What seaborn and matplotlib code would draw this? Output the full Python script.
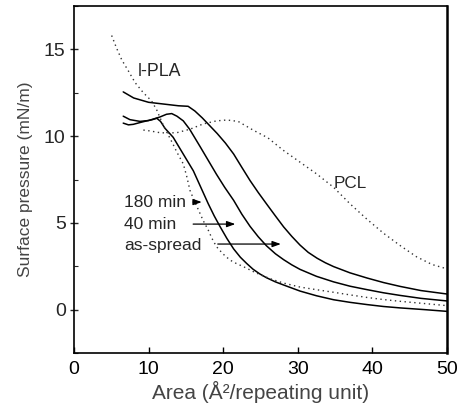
import numpy as np
import pandas as pd
import matplotlib
matplotlib.use("Agg")
import matplotlib.pyplot as plt
import seaborn as sns
from matplotlib.ticker import MultipleLocator

sns.set_style("ticks")
plt.rcParams["font.family"] = ["Liberation Sans", "DejaVu Sans"]

# ------------------------------------------------
# DATA
# ------------------------------------------------
as_spread_x = [6.6, 8, 10, 12, 14, 15.3, 16.2, 17.2, 18.2, 19.2, 20.3, 21.4, 22.5, 23.6,
               24.7, 25.8, 27, 28.1, 29.2, 30.3, 31.4, 32.6, 33.7, 34.8, 37, 39.3, 41.5,
               43.7, 46.5, 50]
as_spread_y = [12.55, 12.2, 11.95, 11.85, 11.75, 11.72, 11.45, 11.05, 10.6, 10.15, 9.6,
               8.97, 8.2, 7.44, 6.75, 6.1, 5.4, 4.77, 4.22, 3.72, 3.3, 2.96, 2.7, 2.48,
               2.12, 1.82, 1.56, 1.34, 1.1, 0.9]

min40_x = [6.6, 7.5, 8.85, 10, 10.6, 11.5, 12.4, 13.1, 13.8, 14.65, 15.5, 16.2, 16.9, 18,
           19.1, 20.2, 21.4, 22.5, 23.6, 24.7, 25.8, 27, 28.1, 29.2, 30.3, 32.5, 34.8, 37,
           39.3, 41.5, 43.7, 46.5, 50]
min40_y = [11.15, 10.95, 10.85, 10.9, 10.98, 11.1, 11.26, 11.3, 11.15, 10.88, 10.4, 9.9,
           9.4, 8.6, 7.8, 7.05, 6.3, 5.5, 4.8, 4.2, 3.68, 3.22, 2.88, 2.58, 2.32, 1.92, 1.6,
           1.35, 1.15, 0.97, 0.82, 0.65, 0.5]

min180_x = [6.6, 7.3, 7.95, 9, 9.75, 10.5, 11.1, 11.6, 12.2, 12.9, 13.3, 14.6, 16, 17,
            18, 18.8, 19.6, 20.5, 21.4, 22.3, 23.15, 24, 24.9, 25.8, 27, 28.1, 30.3, 32.5,
            34.8, 37, 39.3, 41.5, 43.7, 47, 50]
min180_y = [10.75, 10.65, 10.68, 10.8, 10.88, 10.95, 11.03, 10.85, 10.45, 10.12, 9.93,
            9.0, 8.0, 7.05, 6.1, 5.4, 4.77, 4.1, 3.5, 3.02, 2.66, 2.33, 2.06, 1.84, 1.6,
            1.42, 1.07, 0.8, 0.57, 0.42, 0.29, 0.18, 0.1, 0.0, -0.1]

lpla_x = [5.05, 5.7, 6.4, 7.3, 8.2, 9.3, 10.4, 11.1, 11.6, 12.1, 12.6, 13.2, 13.8, 14.65,
          15.1, 15.55, 16.1, 16.7, 17.3, 18.0, 18.5, 19.1, 20, 20.9, 21.8, 22.7, 24.0,
          25.3, 26.7, 28.1, 30.3, 32.5, 34.8, 37, 39.3, 41.5, 43.7, 47, 50]
lpla_y = [15.8, 15.08, 14.4, 13.75, 13.08, 12.5, 12.03, 11.5, 11.0, 10.5, 10.1, 9.6, 9.07,
          8.4, 7.7, 6.87, 6.3, 5.73, 5.15, 4.58, 4.1, 3.63, 3.2, 2.86, 2.65, 2.48, 2.2,
          1.95, 1.72, 1.53, 1.3, 1.15, 1.0, 0.85, 0.7, 0.58, 0.48, 0.35, 0.23]

pcl_x = [9.3, 10.2, 11.5, 12.5, 13.8, 15.55, 17.3, 19.1, 20.5, 22, 24, 26, 28, 30.3, 32.5,
         34.8, 37, 39.3, 41.5, 43.7, 45.9, 48, 50]
pcl_y = [10.35, 10.3, 10.2, 10.18, 10.2, 10.4, 10.7, 10.88, 10.93, 10.85, 10.35, 9.9, 9.2,
         8.5, 7.83, 7.05, 6.1, 5.2, 4.4, 3.7, 3.05, 2.6, 2.35]

x_ticks = [0, 10, 20, 30, 40, 50]
y_ticks = [0, 5, 10, 15]

# ------------------------------------------------
# PLOT
# ------------------------------------------------
fig, ax = plt.subplots(figsize=(4.61, 4.12), dpi=100)
fig.subplots_adjust(left=0.1605, right=0.9696, bottom=0.1432, top=0.9854)

solid = [(as_spread_x, as_spread_y), (min40_x, min40_y), (min180_x, min180_y)]
for xs, ys in solid:
    sns.lineplot(x=xs, y=ys, ax=ax, color="black", linewidth=1.1,
                 sort=False, estimator=None)

for xs, ys in [(lpla_x, lpla_y), (pcl_x, pcl_y)]:
    sns.lineplot(x=xs, y=ys, ax=ax, color="#333333", linewidth=1.0,
                 linestyle=(0, (1, 2.5)), sort=False, estimator=None)

ax.set_xlim(0, 50)
ax.set_ylim(-2.5, 17.5)
ax.set_xticks(x_ticks)
ax.set_yticks(y_ticks)
ax.yaxis.set_minor_locator(MultipleLocator(2.5))

ax.tick_params(axis="x", direction="in", length=4, width=1, pad=6,
               labelsize=14, colors="black")
ax.tick_params(axis="y", which="major", direction="inout", length=6, width=1,
               pad=3, labelsize=14)
ax.tick_params(axis="y", which="minor", direction="in", length=3, width=0.8)

for sp in ax.spines.values():
    sp.set_visible(True)
    sp.set_linewidth(1.2)
    sp.set_color("black")
ax.spines["right"].set_linewidth(1.8)

ax.set_xlabel("Area (Å²/repeating unit)", fontsize=15, color="#444444", labelpad=2)
ax.set_ylabel("Surface pressure (mN/m)", fontsize=12.5, color="#444444", labelpad=8)

# curve labels
ax.text(8.6, 13.75, "l-PLA", fontsize=12.8, va="center", ha="left")
ax.text(34.8, 7.25, "PCL", fontsize=12.3, va="center", ha="left")
ax.text(6.7, 6.16, "180 min", fontsize=12.5, va="center", ha="left")
ax.text(6.7, 4.9, "40 min", fontsize=12.5, va="center", ha="left")
ax.text(6.7, 3.7, "as-spread", fontsize=12.5, va="center", ha="left")

arrow_kw = dict(arrowstyle="-|>,head_length=0.5,head_width=0.18", color="black", lw=0.9)
ax.annotate("", xy=(17.5, 6.2), xytext=(15.6, 6.2), arrowprops=arrow_kw)
ax.annotate("", xy=(22.0, 4.93), xytext=(15.6, 4.93), arrowprops=arrow_kw)
ax.annotate("", xy=(28.1, 3.78), xytext=(18.9, 3.78), arrowprops=arrow_kw)

fig.savefig("out.png", dpi=100)
